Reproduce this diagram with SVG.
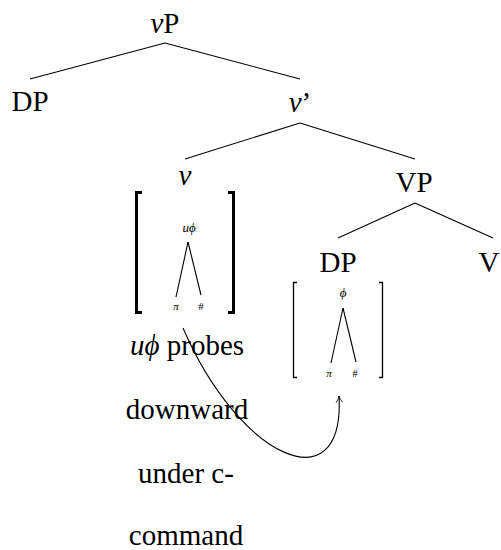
<svg xmlns="http://www.w3.org/2000/svg" width="501" height="550" viewBox="0 0 501 550">
<style>
text{font-family:"Liberation Serif","DejaVu Serif",serif;fill:#000;text-anchor:middle}
.big{font-size:29px}
.sm{font-size:13px;font-style:italic}
.xs{font-size:11px}
.it{font-style:italic}
.edge{stroke:#000;stroke-width:1.1;fill:none}
.brk{stroke:#000;stroke-width:3;fill:none}
.brk2{stroke:#000;stroke-width:1.3;fill:none}
</style>
<defs>
<marker id="arr" viewBox="0 0 10 10" refX="9" refY="5" markerWidth="8" markerHeight="8" markerUnits="userSpaceOnUse" orient="auto">
<path d="M1,1 Q5,4 9,5 Q5,6 1,9" fill="none" stroke="#000" stroke-width="1"/>
</marker>
</defs>
<g id="connectors">
<line class="edge" x1="165" y1="43" x2="30" y2="79"/>
<line class="edge" x1="165" y1="43" x2="300" y2="79"/>
<line class="edge" x1="300" y1="123" x2="185" y2="159"/>
<line class="edge" x1="300" y1="123" x2="415" y2="159"/>
<line class="edge" x1="415" y1="203" x2="338" y2="238"/>
<line class="edge" x1="415" y1="203" x2="493" y2="238"/>
<path class="edge" d="M183,328 C240,460 345,505 339,396" marker-end="url(#arr)"/>
</g>
<g id="vP"><text class="big" x="165" y="33"><tspan class="it">v</tspan>P</text></g>
<g id="DP1"><text class="big" x="30" y="111">DP</text></g>
<g id="vbar"><text class="big" x="300" y="112"><tspan class="it">v</tspan>’</text></g>
<g id="v"><text class="big it" x="185" y="185">v</text></g>
<g id="VP"><text class="big" x="414" y="192">VP</text></g>
<g id="DP2"><text class="big" x="338" y="272">DP</text></g>
<g id="V"><text class="big" x="489" y="272">V</text></g>
<g id="probe-features">
<path class="brk" d="M142,192.5 H136.5 V312.5 H142"/>
<path class="brk" d="M228,192.5 H233.5 V312.5 H228"/>
<text class="sm" x="189" y="232">uϕ</text>
<line class="edge" x1="188" y1="242" x2="176" y2="297"/>
<line class="edge" x1="188" y1="242" x2="201" y2="295"/>
<text class="xs it" x="176" y="310">π</text>
<text class="xs" x="201" y="310">#</text>
</g>
<g id="goal-features">
<path class="brk2" d="M297,282.5 H293.5 V377.5 H297"/>
<path class="brk2" d="M379,282.5 H382.5 V377.5 H379"/>
<text class="sm" x="343" y="297">ϕ</text>
<line class="edge" x1="343" y1="308" x2="331" y2="363"/>
<line class="edge" x1="343" y1="308" x2="356" y2="362"/>
<text class="xs it" x="329" y="377">π</text>
<text class="xs" x="355" y="377">#</text>
</g>
<g id="caption">
<text class="big" x="187" y="355"><tspan class="it">uϕ</tspan> probes</text>
<text class="big" x="187" y="419">downward</text>
<text class="big" x="186" y="483">under c-</text>
<text class="big" x="186" y="545">command</text>
</g>
</svg>
